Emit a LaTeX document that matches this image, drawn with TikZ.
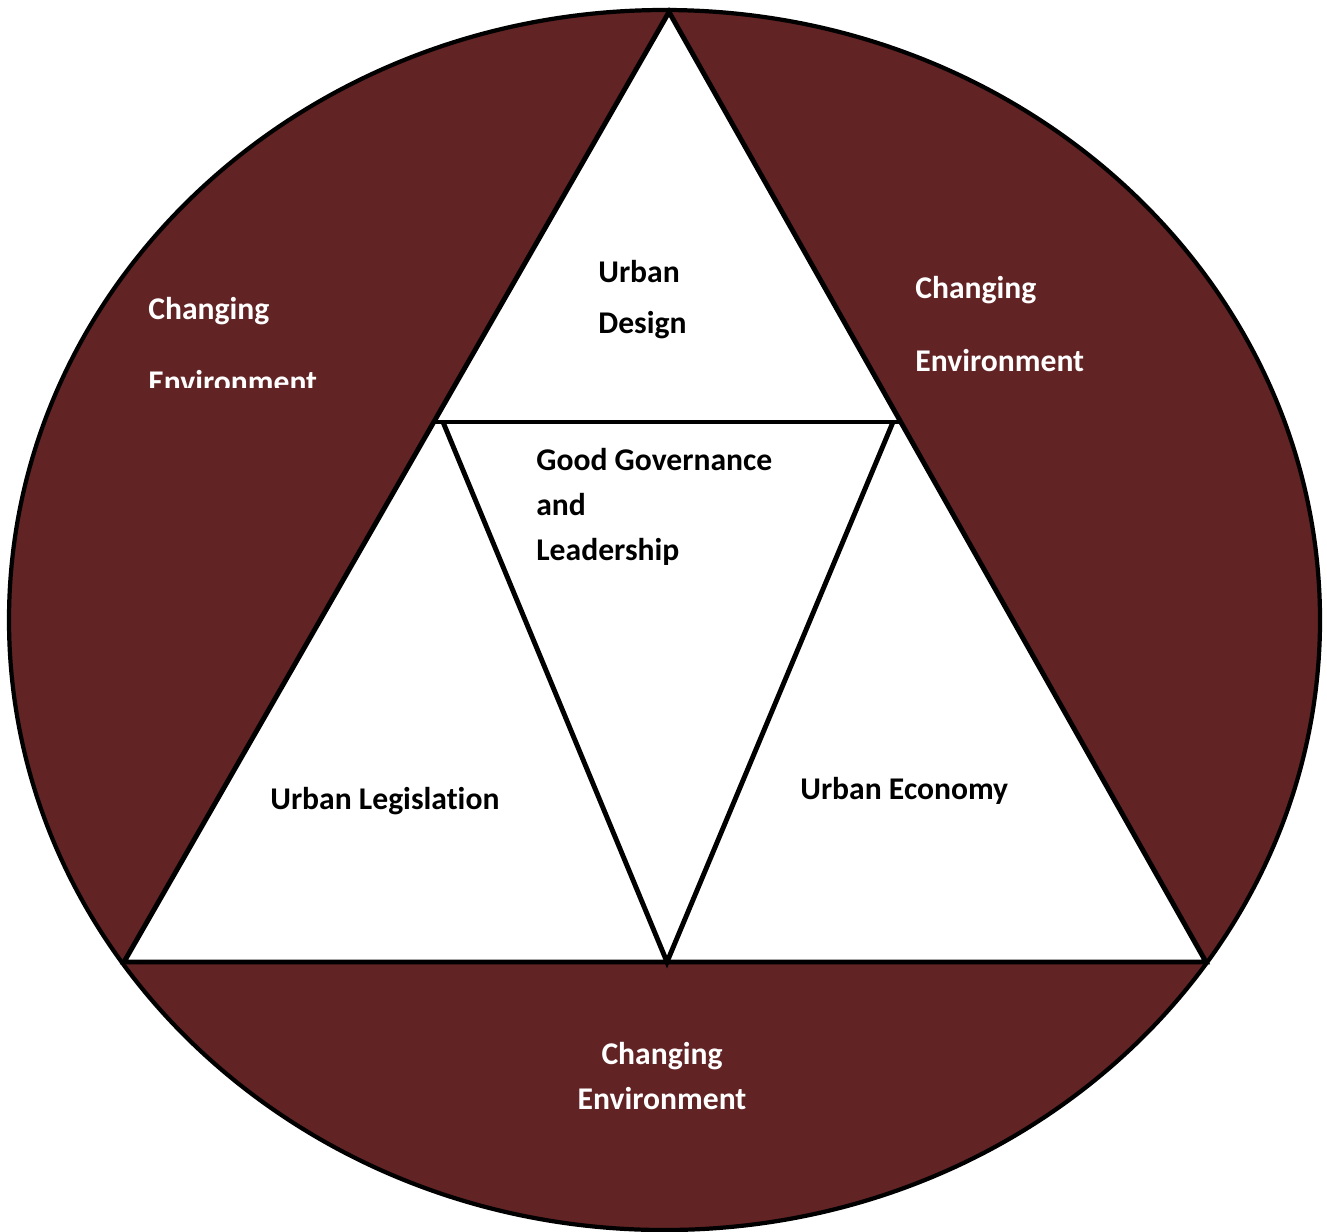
\documentclass[tikz,border=0pt]{standalone}
\usepackage{fontspec}
\setmainfont{Carlito}[Ligatures=NoCommon]
\usetikzlibrary{calc}

\definecolor{maroon}{RGB}{98,35,36}

\begin{document}
\begin{tikzpicture}[x=0.02cm,y=-0.02cm,
    edge/.style={line width=2.8pt, line join=miter},
    lbl/.style={font=\fontsize{18}{25.6}\selectfont\bfseries, inner sep=0pt, align=left, anchor=base west},
    envlbl/.style={lbl, text=white}]
\useasboundingbox (0,0) rectangle (1327,1231);

% changing environment
\draw[edge, line width=2.4pt, fill=maroon] (664.5,620) ellipse (655.5 and 610);

% big triangle
\coordinate (top) at (669,12);
\coordinate (bl) at (124,962);
\coordinate (br) at (1206,962);
\draw[edge, fill=white] (top) -- (bl) -- (br) -- cycle;

% inner triangle
\coordinate (il) at (443,422);
\coordinate (ir) at (893,422);
\coordinate (ib) at (667,962);
\draw[edge] ($(top)!0.4316!(bl)$) -- ($(top)!0.4316!(br)$);
\draw[edge] (il) -- (ib) -- (ir);

% labels (base = last line)
\node at (598,333) (design)[lbl] {Urban\\[2.9pt]Design};
\node at (536,560) (gov)[lbl] {Good Governance\\and\\Leadership};
\node at (270,809) (legis)[lbl] {Urban Legislation};
\node at (800,799) (econ)[lbl] {Urban Economy};

\begin{scope}
\clip (100,250) rectangle (430,387);
\node at (148,392) (envl)[envlbl] {Changing\\[15.8pt]Environment};
\end{scope}
\node at (915,371) (envr)[envlbl] {Changing\\[15.8pt]Environment};
\node at (662,1109) (envb)[envlbl, align=center, anchor=base] {Changing\\Environment};

\end{tikzpicture}
\end{document}
